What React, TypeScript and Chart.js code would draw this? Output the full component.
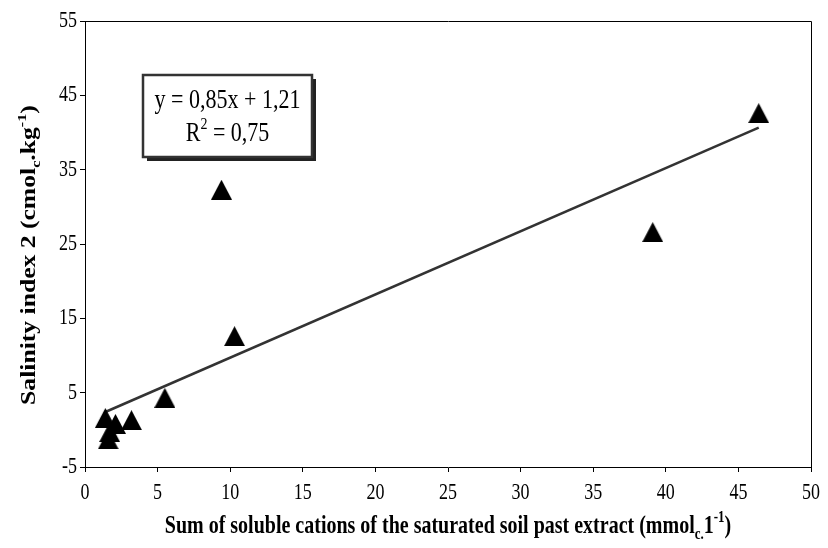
import React, { useEffect, useRef } from "react";
import { Chart, registerables } from "chart.js";

Chart.register(...registerables);

// ---- data ----
const cations = [1.4, 2.1, 1.7, 1.6, 3.2, 5.5, 9.4, 10.3, 39.1, 46.4];
const salinity = [1.6, 0.8, -0.3, -1.3, 1.3, 4.3, 32.3, 12.6, 26.6, 42.6];
const trendSlope = 0.85;
const trendIntercept = 1.21;
const xRange = [0, 50];
const xStep = 5;
const yRange = [-5, 55];
const yStep = 10;
const equationText = "y = 0,85x + 1,21";
const r2Text = "0,75";

type Seg = { t: string; m: "n" | "sub" | "sup" };

const xTitle: Seg[] = [
  { t: "Sum of soluble cations of the saturated soil past extract (mmol", m: "n" },
  { t: "c.", m: "sub" },
  { t: "1", m: "n" },
  { t: "-1", m: "sup" },
  { t: ")", m: "n" },
];
const yTitle: Seg[] = [
  { t: "Salinity index 2 (cmol", m: "n" },
  { t: "c", m: "sub" },
  { t: ".kg", m: "n" },
  { t: "-1", m: "sup" },
  { t: ")", m: "n" },
];

const SERIF = "'Liberation Serif', 'Times New Roman', serif";
const STRETCH = 1.25; // the reference's glyphs are taller than wide

function segFont(size: number, bold: boolean, m: string) {
  const s = m === "n" ? size : Math.round(size * 0.65);
  return `${bold ? "bold " : ""}${s}px ${SERIF}`;
}

function measureRich(ctx: CanvasRenderingContext2D, segs: Seg[], size: number, bold: boolean) {
  let w = 0;
  for (const s of segs) {
    ctx.font = segFont(size, bold, s.m);
    w += ctx.measureText(s.t).width;
  }
  return w;
}

// draws rich text centred at the current origin
function drawRich(ctx: CanvasRenderingContext2D, segs: Seg[], size: number, bold: boolean) {
  const w = measureRich(ctx, segs, size, bold);
  let x = -w / 2;
  ctx.textBaseline = "middle";
  ctx.textAlign = "left";
  for (const s of segs) {
    ctx.font = segFont(size, bold, s.m);
    const dy = s.m === "sub" ? size * 0.3 : s.m === "sup" ? -size * 0.35 : 0;
    ctx.fillText(s.t, x, dy);
    x += ctx.measureText(s.t).width;
  }
}

function drawStretched(
  ctx: CanvasRenderingContext2D,
  text: string,
  x: number,
  y: number,
  size: number,
  align: CanvasTextAlign
) {
  ctx.save();
  ctx.translate(x, y);
  ctx.scale(1, STRETCH);
  ctx.font = `${size}px ${SERIF}`;
  ctx.textAlign = align;
  ctx.textBaseline = "middle";
  ctx.fillText(text, 0, 0);
  ctx.restore();
}

const overlayPlugin = {
  id: "overlay",
  afterDraw(chart: any) {
    const ctx: CanvasRenderingContext2D = chart.ctx;
    const a = chart.chartArea;
    ctx.save();
    // plot frame (top and right)
    ctx.strokeStyle = "#000";
    ctx.lineWidth = 1;
    ctx.beginPath();
    ctx.moveTo(Math.round(a.left) + 0.5, Math.round(a.top) + 0.5);
    ctx.lineTo(Math.round(a.right) + 0.5, Math.round(a.top) + 0.5);
    ctx.lineTo(Math.round(a.right) + 0.5, Math.round(a.bottom) + 0.5);
    ctx.stroke();

    ctx.fillStyle = "#000";
    // tick labels (positions from the library's scales)
    const xs = chart.scales.x;
    const ys = chart.scales.y;
    for (const t of xs.ticks) {
      drawStretched(ctx, String(t.value), xs.getPixelForValue(t.value), a.bottom + 26, 18, "center");
    }
    for (const t of ys.ticks) {
      drawStretched(ctx, String(t.value), a.left - 8, ys.getPixelForValue(t.value), 18, "right");
    }

    // x title (centred on the plot area)
    ctx.save();
    ctx.translate((a.left + a.right) / 2, 527);
    ctx.scale(1, STRETCH);
    drawRich(ctx, xTitle, 20, true);
    ctx.restore();
    // y title
    ctx.save();
    ctx.translate(30, 255);
    ctx.rotate(-Math.PI / 2);
    ctx.scale(STRETCH, 1);
    drawRich(ctx, yTitle, 20.5, true);
    ctx.restore();

    // equation box
    const bx = 143, by = 75, bw = 169, bh = 82;
    ctx.fillStyle = "#222";
    ctx.fillRect(bx + 4, by + 4, bw, bh);
    ctx.fillStyle = "#fff";
    ctx.fillRect(bx, by, bw, bh);
    ctx.strokeStyle = "#333";
    ctx.lineWidth = 2.5;
    ctx.strokeRect(bx, by, bw, bh);
    ctx.fillStyle = "#000";
    ctx.save();
    ctx.translate(bx + bw / 2, 101);
    ctx.scale(1, STRETCH);
    drawRich(ctx, [{ t: equationText, m: "n" }], 22, false);
    ctx.restore();
    ctx.save();
    ctx.translate(bx + bw / 2, 134);
    ctx.scale(1, STRETCH);
    drawRich(
      ctx,
      [
        { t: "R", m: "n" },
        { t: "2", m: "sup" },
        { t: " = " + r2Text, m: "n" },
      ],
      22,
      false
    );
    ctx.restore();
    ctx.restore();
  },
};

function makeTriangle() {
  const c = document.createElement("canvas");
  c.width = 21;
  c.height = 20;
  const g = c.getContext("2d")!;
  g.fillStyle = "#000";
  g.beginPath();
  g.moveTo(10.5, 0);
  g.lineTo(21, 20);
  g.lineTo(0, 20);
  g.closePath();
  g.fill();
  return c;
}

export default function App() {
  const ref = useRef<HTMLCanvasElement>(null);

  useEffect(() => {
    if (!ref.current) return;
    const tri = makeTriangle();
    const pts = cations.map((x, i) => ({ x, y: salinity[i] }));
    const xMin = Math.min(...cations);
    const xMax = Math.max(...cations);
    const trend = [
      { x: xMin, y: trendSlope * xMin + trendIntercept },
      { x: xMax, y: trendSlope * xMax + trendIntercept },
    ];
    const hidden = "rgba(0,0,0,0)";
    const chart = new Chart(ref.current, {
      type: "scatter",
      data: {
        datasets: [
          {
            type: "line",
            data: trend,
            borderColor: "#333",
            borderWidth: 2.5,
            pointRadius: 0,
            fill: false,
            order: 2,
          } as any,
          {
            data: pts,
            pointStyle: tri as any,
            pointRadius: 10,
            backgroundColor: "#000",
            borderColor: "#000",
            order: 1,
          },
        ],
      },
      options: {
        responsive: false,
        animation: false,
        devicePixelRatio: 1,
        layout: { padding: { top: 21, right: 13, left: 0, bottom: 0 } },
        plugins: { legend: { display: false }, tooltip: { enabled: false } },
        scales: {
          x: {
            type: "linear",
            min: xRange[0],
            max: xRange[1],
            afterFit: (s: any) => {
              s.height = 81;
            },
            ticks: {
              stepSize: xStep,
              color: hidden,
              font: { family: SERIF, size: 18 },
              padding: 8,
              maxRotation: 0,
            },
            grid: {
              display: true,
              drawOnChartArea: false,
              drawTicks: true,
              tickLength: 5,
              color: "#000",
            },
            border: { display: true, color: "#000", width: 1 },
          },
          y: {
            type: "linear",
            min: yRange[0],
            max: yRange[1],
            afterFit: (s: any) => {
              s.width = 85;
            },
            ticks: {
              stepSize: yStep,
              color: hidden,
              font: { family: SERIF, size: 18 },
              padding: 3,
            },
            grid: {
              display: true,
              drawOnChartArea: false,
              drawTicks: true,
              tickLength: 5,
              color: "#000",
            },
            border: { display: true, color: "#000", width: 1 },
          },
        },
      },
      plugins: [overlayPlugin],
    });
    return () => chart.destroy();
  }, []);

  return (
    <div style={{ position: "absolute", left: 0, top: 0, width: 828, height: 548, background: "#fff" }}>
      <canvas ref={ref} width={828} height={548} style={{ width: 828, height: 548, display: "block" }} />
    </div>
  );
}
